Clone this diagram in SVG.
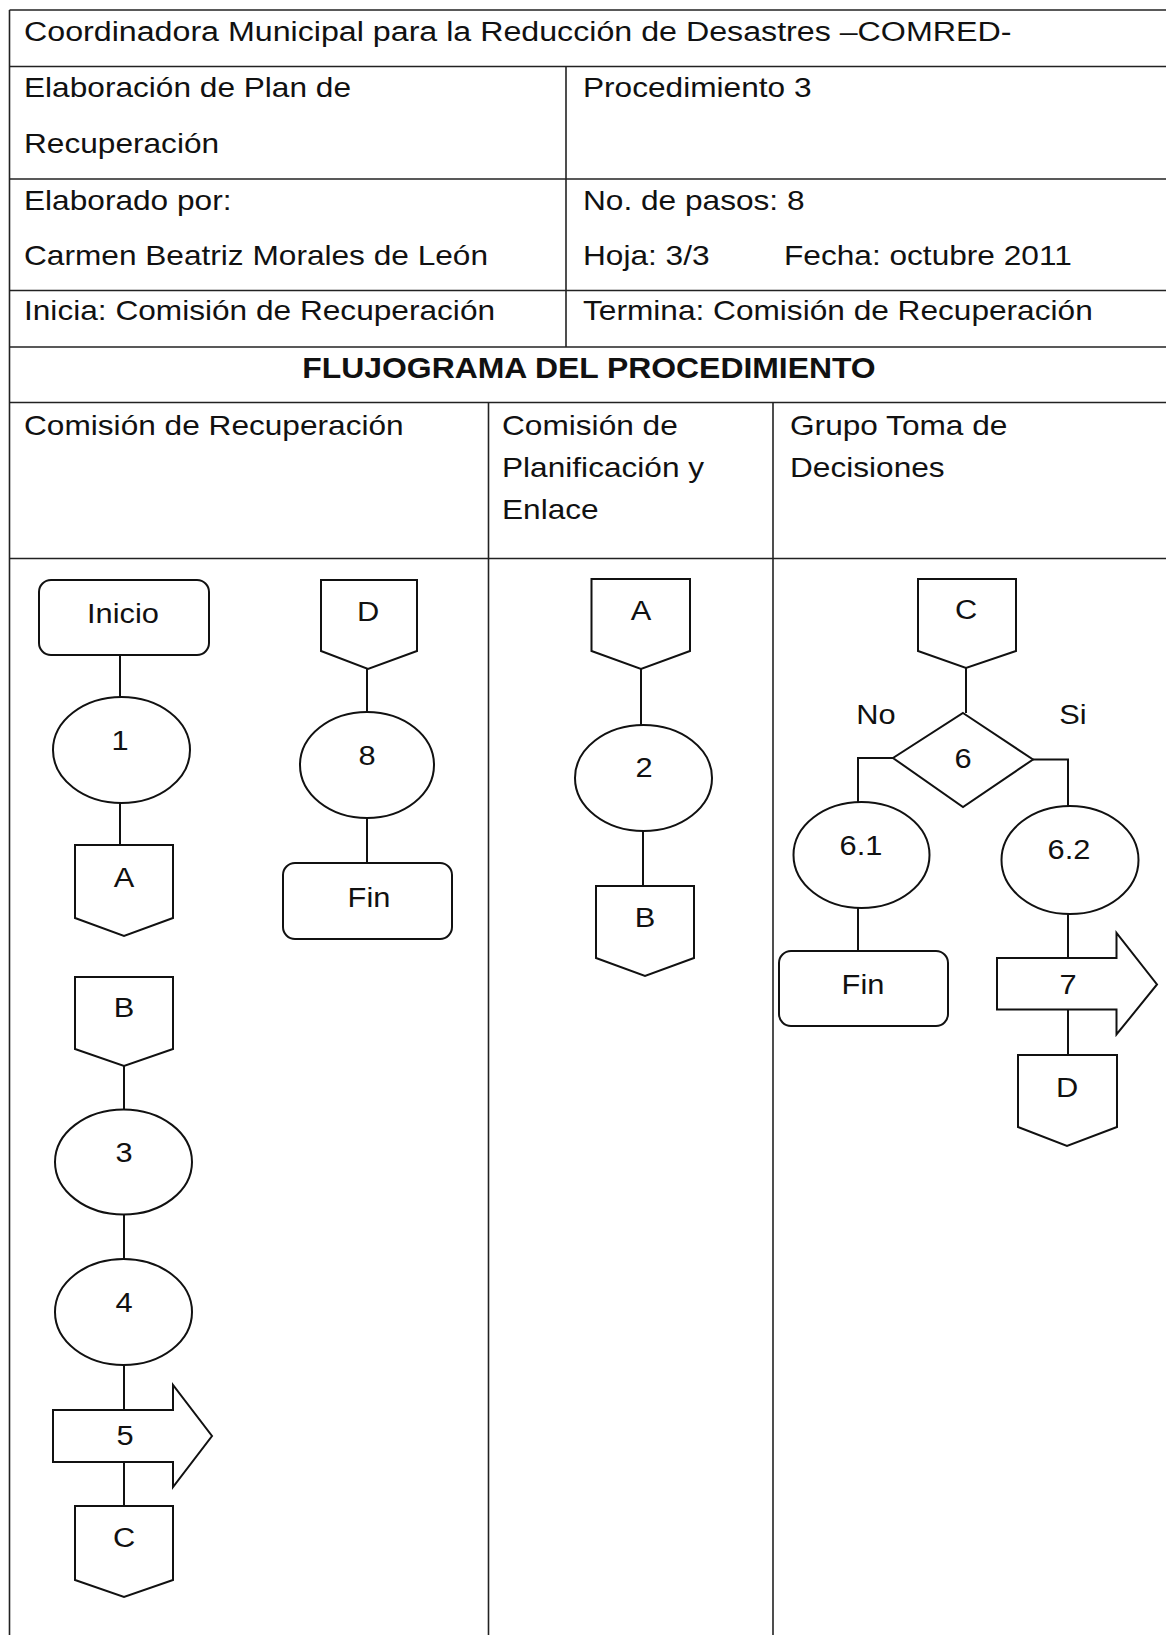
<svg xmlns="http://www.w3.org/2000/svg" width="1166" height="1635" viewBox="0 0 1166 1635">
<style>
.t{font-family:"Liberation Sans",Arial,Helvetica,sans-serif;font-size:28px;fill:#111}
.c{text-anchor:middle}
.b{font-weight:bold;font-size:29px}
.grid{stroke:#222;stroke-width:1.6;fill:none}
.shape{fill:#fff;stroke:#111;stroke-width:2}
.conn{stroke:#111;stroke-width:2;fill:none}
</style>
<rect x="0" y="0" width="1166" height="1635" fill="#fff"/>
<g id="table">
<line class="grid" x1="9.5" y1="10" x2="1166" y2="10"/>
<line class="grid" x1="9.5" y1="66.5" x2="1166" y2="66.5"/>
<line class="grid" x1="9.5" y1="179" x2="1166" y2="179"/>
<line class="grid" x1="9.5" y1="290.5" x2="1166" y2="290.5"/>
<line class="grid" x1="9.5" y1="347" x2="1166" y2="347"/>
<line class="grid" x1="9.5" y1="402.5" x2="1166" y2="402.5"/>
<line class="grid" x1="9.5" y1="558.5" x2="1166" y2="558.5"/>
<line class="grid" x1="9.5" y1="10" x2="9.5" y2="1635"/>
<line class="grid" x1="566" y1="66.5" x2="566" y2="347"/>
<line class="grid" x1="488.5" y1="402.5" x2="488.5" y2="1635"/>
<line class="grid" x1="773" y1="402.5" x2="773" y2="1635"/>
</g>
<g id="header-text">
<text class="t" transform="translate(24 41) scale(1.15 1)">Coordinadora Municipal para la Reducción de Desastres –COMRED-</text>
<text class="t" transform="translate(24 97) scale(1.13 1)">Elaboración de Plan de</text>
<text class="t" transform="translate(24 153) scale(1.13 1)">Recuperación</text>
<text class="t" transform="translate(583 97) scale(1.13 1)">Procedimiento 3</text>
<text class="t" transform="translate(24 210) scale(1.13 1)">Elaborado por:</text>
<text class="t" transform="translate(583 210) scale(1.13 1)">No. de pasos: 8</text>
<text class="t" transform="translate(24 265) scale(1.13 1)">Carmen Beatriz Morales de León</text>
<text class="t" transform="translate(583 265) scale(1.13 1)">Hoja: 3/3</text>
<text class="t" transform="translate(784 265) scale(1.13 1)">Fecha: octubre 2011</text>
<text class="t" transform="translate(24 320) scale(1.13 1)">Inicia: Comisión de Recuperación</text>
<text class="t" transform="translate(583 320) scale(1.13 1)">Termina: Comisión de Recuperación</text>
<text class="t b c" transform="translate(589 378) scale(1.1 1)">FLUJOGRAMA DEL PROCEDIMIENTO</text>
<text class="t" transform="translate(24 435) scale(1.13 1)">Comisión de Recuperación</text>
<text class="t" transform="translate(502 435) scale(1.13 1)">Comisión de</text>
<text class="t" transform="translate(502 477) scale(1.13 1)">Planificación y</text>
<text class="t" transform="translate(502 519) scale(1.13 1)">Enlace</text>
<text class="t" transform="translate(790 435) scale(1.13 1)">Grupo Toma de</text>
<text class="t" transform="translate(790 477) scale(1.13 1)">Decisiones</text>
</g>
<g id="connectors">
<line class="conn" x1="120" y1="655" x2="120" y2="697"/>
<line class="conn" x1="120" y1="803" x2="120" y2="845"/>
<line class="conn" x1="367" y1="669" x2="367" y2="712"/>
<line class="conn" x1="367" y1="818" x2="367" y2="863"/>
<line class="conn" x1="124" y1="1066" x2="124" y2="1110"/>
<line class="conn" x1="124" y1="1215" x2="124" y2="1259"/>
<line class="conn" x1="124" y1="1365" x2="124" y2="1410"/>
<line class="conn" x1="124" y1="1462" x2="124" y2="1506"/>
<line class="conn" x1="641" y1="669" x2="641" y2="725"/>
<line class="conn" x1="643" y1="831" x2="643" y2="886"/>
<line class="conn" x1="966" y1="668" x2="966" y2="713"/>
<polyline class="conn" points="893,758 858,758 858,802.5"/>
<polyline class="conn" points="1033,759.5 1068,759.5 1068,806"/>
<line class="conn" x1="858" y1="908" x2="858" y2="951"/>
<line class="conn" x1="1068" y1="914" x2="1068" y2="958"/>
<line class="conn" x1="1068" y1="1010" x2="1068" y2="1055"/>
</g>
<g id="inicio">
<rect class="shape" x="39" y="580" width="170" height="75" rx="12"/>
<text class="t c" transform="translate(123 623) scale(1.1 1)">Inicio</text>
</g>
<g id="step1">
<ellipse class="shape" cx="121.5" cy="750" rx="68.5" ry="53"/>
<text class="t c" transform="translate(120 750) scale(1.1 1)">1</text>
</g>
<g id="conA-out">
<polygon class="shape" points="75,845 173,845 173,918 124,936 75,918"/>
<text class="t c" transform="translate(124 887) scale(1.1 1)">A</text>
</g>
<g id="conD-in">
<polygon class="shape" points="321,580 417,580 417,651 368,669 321,651"/>
<text class="t c" transform="translate(368 621) scale(1.1 1)">D</text>
</g>
<g id="step8">
<ellipse class="shape" cx="367" cy="765" rx="67" ry="53"/>
<text class="t c" transform="translate(367 765) scale(1.1 1)">8</text>
</g>
<g id="fin1">
<rect class="shape" x="283" y="863" width="169" height="76" rx="12"/>
<text class="t c" transform="translate(369 907) scale(1.1 1)">Fin</text>
</g>
<g id="conB-in">
<polygon class="shape" points="75,977 173,977 173,1049 124,1066 75,1049"/>
<text class="t c" transform="translate(124 1017) scale(1.1 1)">B</text>
</g>
<g id="step3">
<ellipse class="shape" cx="123.5" cy="1162" rx="68.5" ry="52.5"/>
<text class="t c" transform="translate(124 1162) scale(1.1 1)">3</text>
</g>
<g id="step4">
<ellipse class="shape" cx="123.5" cy="1312" rx="68.5" ry="53"/>
<text class="t c" transform="translate(124 1312) scale(1.1 1)">4</text>
</g>
<g id="step5">
<polygon class="shape" points="53,1410 173,1410 173,1385 212,1436 173,1487 173,1462 53,1462"/>
<text class="t c" transform="translate(125 1445) scale(1.1 1)">5</text>
</g>
<g id="conC-out">
<polygon class="shape" points="75,1506 173,1506 173,1580 124,1597 75,1580"/>
<text class="t c" transform="translate(124 1547) scale(1.1 1)">C</text>
</g>
<g id="conA-in">
<polygon class="shape" points="591.5,579 690,579 690,651 641,669 591.5,651"/>
<text class="t c" transform="translate(641 620) scale(1.1 1)">A</text>
</g>
<g id="step2">
<ellipse class="shape" cx="643.5" cy="778" rx="68.5" ry="53"/>
<text class="t c" transform="translate(644 777) scale(1.1 1)">2</text>
</g>
<g id="conB-out">
<polygon class="shape" points="596,886 694,886 694,958 645,976 596,958"/>
<text class="t c" transform="translate(645 927) scale(1.1 1)">B</text>
</g>
<g id="conC-in">
<polygon class="shape" points="918,579 1016,579 1016,651 966,668 918,651"/>
<text class="t c" transform="translate(966 619) scale(1.1 1)">C</text>
</g>
<g id="decision6">
<polygon class="shape" points="963,713 1033,759.5 963,807 893,758"/>
<text class="t c" transform="translate(963 768) scale(1.1 1)">6</text>
</g>
<g id="labels">
<text class="t c" transform="translate(876 724) scale(1.1 1)">No</text>
<text class="t c" transform="translate(1073 724) scale(1.1 1)">Si</text>
</g>
<g id="step6-1">
<ellipse class="shape" cx="861.5" cy="855" rx="68" ry="53"/>
<text class="t c" transform="translate(861 855) scale(1.1 1)">6.1</text>
</g>
<g id="fin2">
<rect class="shape" x="779" y="951" width="169" height="75" rx="12"/>
<text class="t c" transform="translate(863 994) scale(1.1 1)">Fin</text>
</g>
<g id="step6-2">
<ellipse class="shape" cx="1070" cy="860" rx="68.5" ry="54"/>
<text class="t c" transform="translate(1069 859) scale(1.1 1)">6.2</text>
</g>
<g id="step7">
<polygon class="shape" points="997,958 1116.5,958 1116.5,933 1157,984.5 1116.5,1034.5 1116.5,1009.5 997,1009.5"/>
<text class="t c" transform="translate(1068 994) scale(1.1 1)">7</text>
</g>
<g id="conD-out">
<polygon class="shape" points="1018,1055 1117,1055 1117,1127 1067,1146 1018,1127"/>
<text class="t c" transform="translate(1067 1097) scale(1.1 1)">D</text>
</g>
</svg>
